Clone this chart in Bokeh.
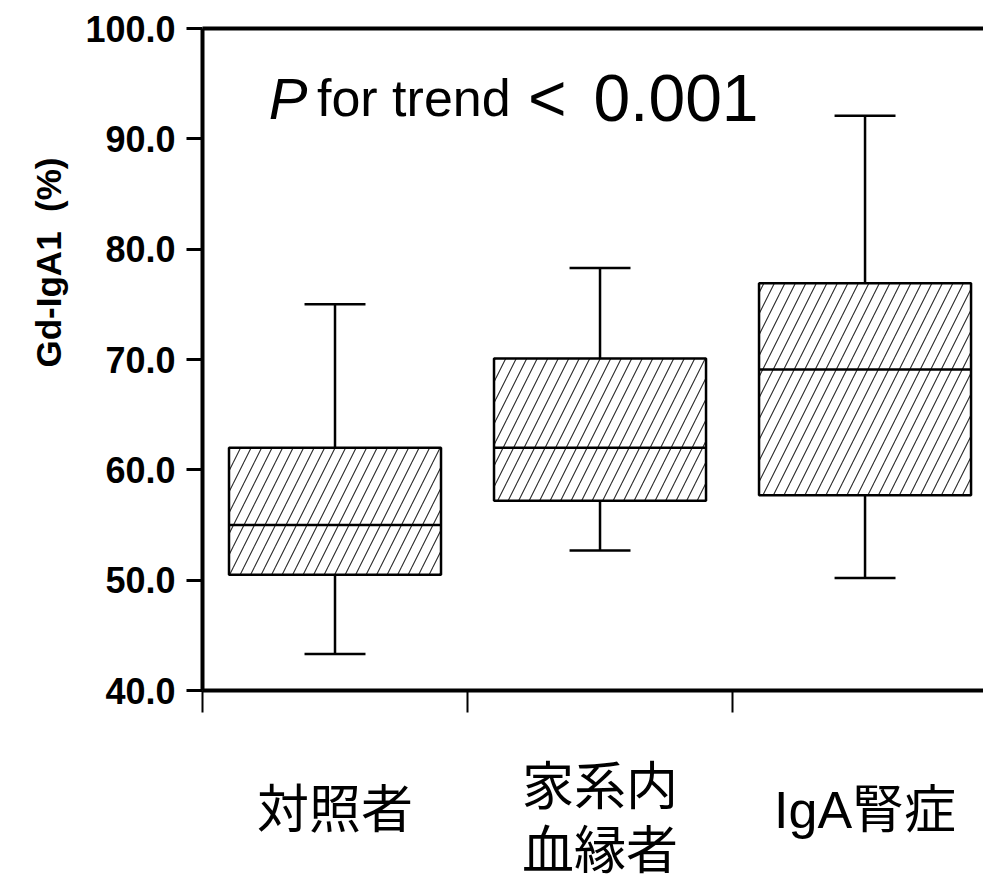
import math
from bokeh.plotting import figure
from bokeh.layouts import row, column
from bokeh.models import Range1d, FixedTicker, LinearAxis, Label, PrintfTickFormatter
from bokeh.core.properties import value
from bokeh.embed import file_html
from bokeh.resources import INLINE

# ---- data ----
groups = ["対照者", "家系内\n血縁者", "IgA腎症"]
group_x = [0.5, 1.5, 2.5]
lower = [43.3, 52.7, 50.2]
q1 = [50.5, 57.2, 57.7]
median = [55.0, 62.0, 69.1]
q3 = [62.0, 70.1, 76.9]
upper = [75.0, 78.3, 92.1]
y_ticks = [40, 50, 60, 70, 80, 90, 100]
x_ticks = [0, 1, 2, 3]
y_label = "Gd-IgA1\u00a0\u00a0(%)"

BOX_W = 0.8
CAP_W = 0.23
LEFT_W = 80          # width of the strip holding the y-axis title
TOTAL_W, TOTAL_H = 983, 879
MAIN_H = 740
LABEL_H = TOTAL_H - MAIN_H

x_range = Range1d(0, 2.947)


def clean(fig):
    fig.outline_line_color = None
    fig.background_fill_color = "white"
    fig.border_fill_color = "white"
    return fig


# ---------- main plot ----------
p = figure(width=TOTAL_W - LEFT_W, height=MAIN_H, output_backend="svg", toolbar_location=None,
           x_range=x_range, y_range=Range1d(40, 100),
           min_border_left=202 - LEFT_W, min_border_right=0, min_border_top=28, min_border_bottom=50)
clean(p)
p.xgrid.visible = False
p.ygrid.visible = False

ya = p.yaxis[0]
ya.ticker = FixedTicker(ticks=y_ticks)
ya.formatter = PrintfTickFormatter(format="%.1f")
ya.major_label_text_font = "Liberation Sans"
ya.major_label_text_font_style = "bold"
ya.major_label_text_font_size = "36px"
ya.major_label_text_color = "black"
ya.major_tick_out = 16
ya.major_tick_in = 0
ya.major_tick_line_width = 3
ya.major_tick_line_color = "black"
ya.minor_tick_out = 0
ya.minor_tick_in = 0
ya.axis_line_width = 4
ya.axis_line_color = "black"
ya.major_label_standoff = 11

xa = p.xaxis[0]
xa.ticker = FixedTicker(ticks=x_ticks)
xa.major_label_overrides = {t: "" for t in x_ticks}
xa.major_tick_out = 22
xa.major_tick_in = 0
xa.major_tick_line_width = 2
xa.major_tick_line_color = "black"
xa.minor_tick_out = 0
xa.minor_tick_in = 0
xa.axis_line_width = 4
xa.axis_line_color = "black"

top = LinearAxis(ticker=FixedTicker(ticks=[]),
                 major_tick_out=0, major_tick_in=0, minor_tick_out=0, minor_tick_in=0,
                 axis_line_width=4, axis_line_color="black")
p.add_layout(top, "above")

# boxes
p.vbar(x=group_x, width=BOX_W, bottom=q1, top=q3, fill_color="white",
       hatch_pattern="right_diagonal_line", hatch_color="#2a2a2a", hatch_scale=21,
       hatch_weight=1.1, line_color="black", line_width=2.5)
p.segment(x0=[x - BOX_W / 2 for x in group_x], x1=[x + BOX_W / 2 for x in group_x],
          y0=median, y1=median, line_color="black", line_width=2.5)
p.segment(x0=group_x, x1=group_x, y0=q3, y1=upper, line_color="black", line_width=2.5)
p.segment(x0=group_x, x1=group_x, y0=q1, y1=lower, line_color="black", line_width=2.5)
p.segment(x0=[x - CAP_W / 2 for x in group_x], x1=[x + CAP_W / 2 for x in group_x],
          y0=upper, y1=upper, line_color="black", line_width=2.5)
p.segment(x0=[x - CAP_W / 2 for x in group_x], x1=[x + CAP_W / 2 for x in group_x],
          y0=lower, y1=lower, line_color="black", line_width=2.5)

# P for trend < 0.001
p.add_layout(Label(x=0.25, y=93.7, text="P", text_font="Liberation Sans",
                   text_font_style="italic", text_font_size="58px", text_color="black",
                   text_baseline="alphabetic"))
p.add_layout(Label(x=0.432, y=93.7, text="for trend", text_font="Liberation Sans",
                   text_font_size="52px", text_color="black", text_baseline="alphabetic"))
p.add_layout(Label(x=1.228, y=93.7, text="<", text_font="Liberation Sans",
                   text_font_size="66px", text_color="black", text_baseline="alphabetic"))
p.add_layout(Label(x=1.475, y=93.7, text="0.001", text_font="Liberation Sans",
                   text_font_size="66px", text_color="black", text_baseline="alphabetic"))

# ---------- y-axis title strip ----------
pl = figure(width=LEFT_W, height=TOTAL_H, output_backend="svg", toolbar_location=None,
            x_range=Range1d(0, LEFT_W), y_range=Range1d(0, TOTAL_H),
            x_axis_type=None, y_axis_type=None, min_border=0)
clean(pl)
pl.xgrid.visible = False
pl.ygrid.visible = False
pl.text(x=[48], y=[TOTAL_H - 262], text=[y_label], angle=math.pi / 2,
        text_font=value("Liberation Sans"), text_font_style="bold", text_font_size="35px",
        text_color="black", text_align="center", text_baseline="middle")

# ---------- category label strip ----------
pc = figure(width=TOTAL_W - LEFT_W, height=LABEL_H, output_backend="svg", toolbar_location=None,
            x_range=x_range, y_range=Range1d(0, LABEL_H),
            x_axis_type=None, y_axis_type=None,
            min_border_left=202 - LEFT_W, min_border_right=0, min_border_top=0, min_border_bottom=0)
clean(pc)
pc.xgrid.visible = False
pc.ygrid.visible = False

lab_x, lab_y, lab_t = [], [], []
for gx, g in zip(group_x, groups):
    lines = g.split("\n")
    if len(lines) == 1:
        offs = [69]
    else:
        offs = [46, 110]
    for ln, off in zip(lines, offs):
        lab_x.append(gx)
        lab_y.append(LABEL_H - off)
        lab_t.append(ln)
pc.text(x=lab_x, y=lab_y, text=lab_t,
        text_font=value("Liberation Sans, Noto Sans CJK JP"), text_font_size="52px",
        text_color="black", text_align="center", text_baseline="middle")

layout = row(pl, column(p, pc, spacing=0), spacing=0)
open("out.html", "w").write(file_html(layout, INLINE))
